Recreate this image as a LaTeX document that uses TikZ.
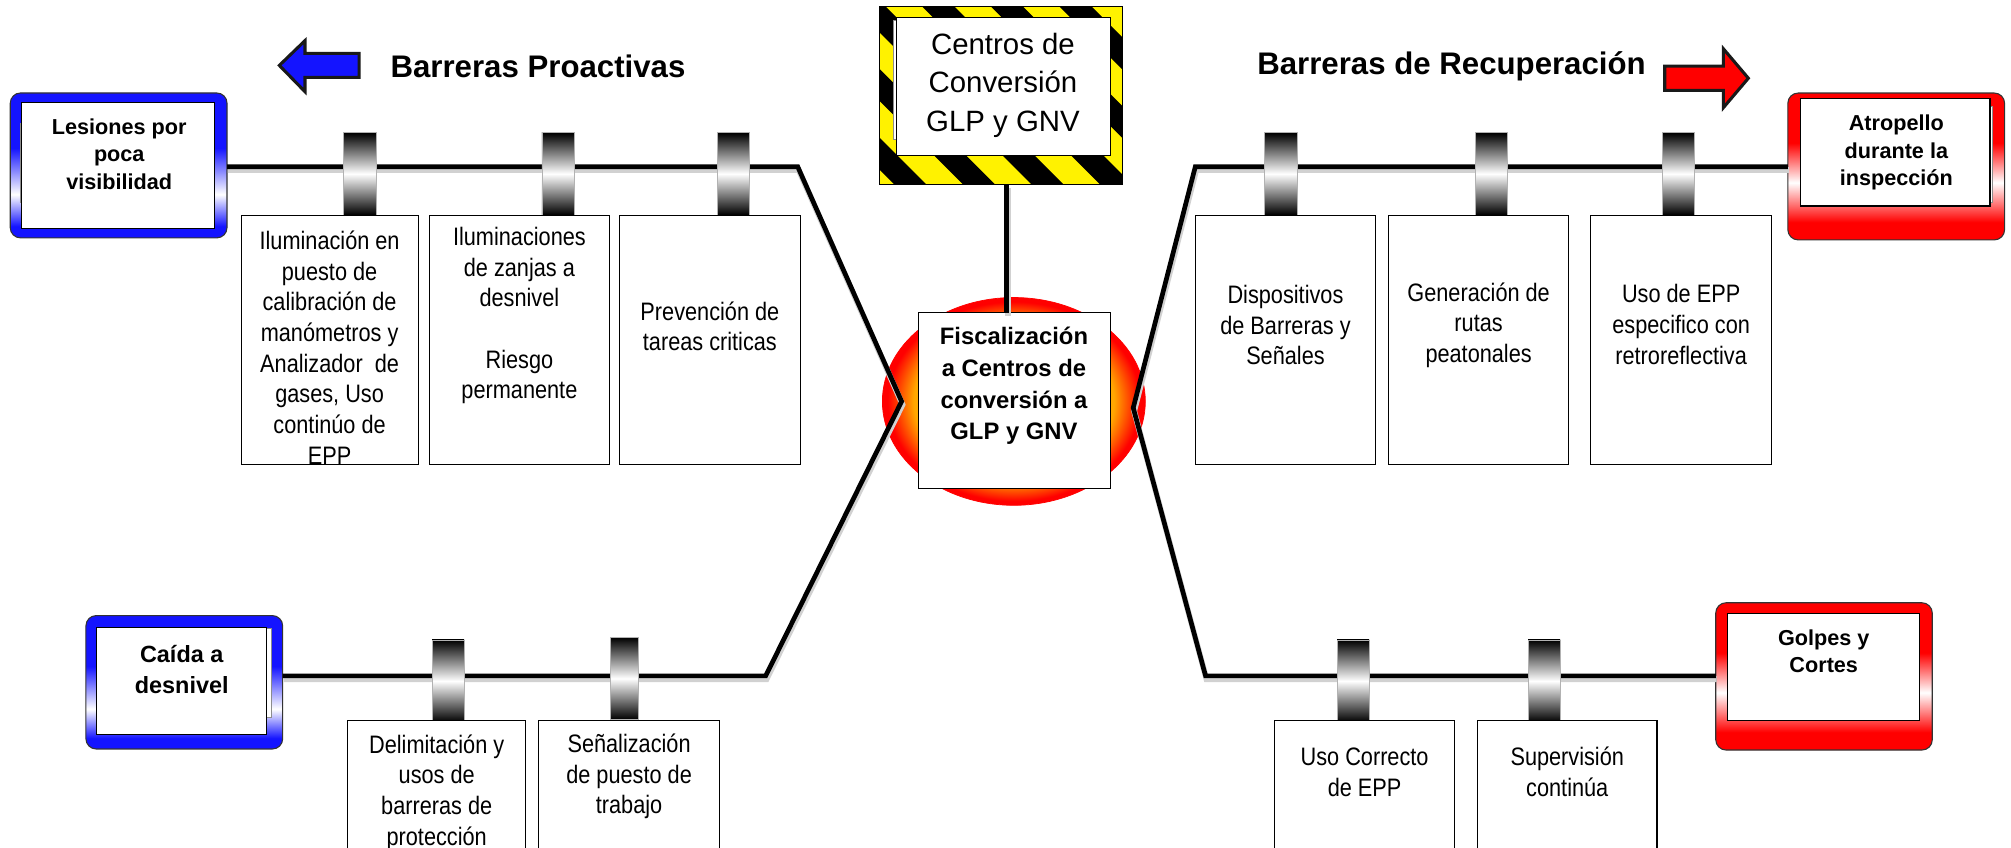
\documentclass[tikz,border=0pt]{standalone}
\usepackage{fontspec}
\setmainfont{Liberation Sans}
\newfontfamily\narrowsans[FakeStretch=0.86]{Liberation Sans}
\usepackage{tikz}
\usetikzlibrary{shapes,positioning,calc}
\definecolor{amber}{RGB}{255,168,0}
\definecolor{rimblue}{RGB}{20,20,255}
\definecolor{rimred}{RGB}{255,0,0}
\pgfdeclareverticalshading{bluerim}{100bp}{color(0bp)=(rimblue); color(29bp)=(rimblue); color(40bp)=(white); color(56bp)=(rimblue); color(100bp)=(rimblue)}
\pgfdeclareverticalshading{redrim}{100bp}{color(0bp)=(rimred); color(31bp)=(rimred); color(44.5bp)=(white); color(58bp)=(rimred); color(100bp)=(rimred)}
\pgfdeclareradialshading{fireball}{\pgfpoint{0bp}{0bp}}{color(0bp)=(amber); color(19bp)=(amber); color(24bp)=(rimred); color(50bp)=(rimred)}
\newcommand{\pu}{0.025cm}
\tikzstyle{tbox}=[draw, line width=0.6pt, fill=white, inner sep=0, outer sep=0]
\tikzstyle{barrel}=[draw=black!30, line width=0.3pt, top color=black, bottom color=black, middle color=white, minimum width=25*\pu, minimum height=64*\pu, inner sep=0, outer sep=0]
\tikzstyle{rim}=[draw=black!80, line width=0.6pt, rounded corners=0.2cm, inner sep=0, outer sep=0]
\tikzstyle{sheet}=[draw=black!45, line width=0.4pt, fill=white]
\tikzset{
  spine/.style={line width=2.6pt},
  spineshadow/.style={draw=black!18, line width=3.2pt, transform canvas={xshift=0.5pt,yshift=-1.8pt}},
  btext/.style={font=\narrowsans\fontsize{14}{17}\selectfont, align=center, inner sep=0},
  htext/.style={font=\bfseries\fontsize{12}{15.2}\selectfont, align=center, inner sep=0},
  title/.style={font=\bfseries\fontsize{17.3}{20}\selectfont, inner sep=0},
  bigarrow/.style={draw=black!90, line width=1.7pt, line join=miter}
}
\newcommand{\barrier}{\node[barrel]}
\newcommand{\drawbox}{\node[tbox]}

\begin{document}
\begin{tikzpicture}[x=\pu, y=-\pu]
	\useasboundingbox (0,0) rectangle (1568,661);
	\clip (0,0) rectangle (1568,661);
	
	% core event
	\node[ellipse, draw=rimred, line width=0.4pt, shade, shading=fireball, minimum width=205*\pu, minimum height=162*\pu, inner sep=0] (fire) at (790.5,313) {};
	\drawbox[minimum width=150*\pu, minimum height=137*\pu] (fisc) at (791,312.5) {};
	\node[htext, font=\bfseries\fontsize{13.2}{17.6}\selectfont] (fisctx) at (790.6,301) {Fiscalización\\a Centros de\\conversión a\\GLP y GNV};
	
	% hazard sign
	\node[draw, line width=0.6pt, fill=yellow, minimum width=189.6*\pu, minimum height=139.3*\pu, inner sep=0, outer sep=0] (hzo) at (780.2,74.4) {};
	\begin{scope}
		\clip (hzo.south west) rectangle (hzo.north east);
		\foreach \k in {-5,...,3}
			\fill ({714+53.5*\k},0) -- ++(25,0) -- ++(170,170) -- ++(-25,0) -- cycle;
	\end{scope}
	\draw[line width=0.6pt] (hzo.south west) rectangle (hzo.north east);
	\path[sheet] (696.5,16) rectangle (701,109);
	\drawbox[minimum width=166.5*\pu, minimum height=108*\pu] (hz) at (782.3,67.6) {};
	\node[font=\fontsize{16.3}{21.3}\selectfont, align=center, inner sep=0] (hztx) at (782,66.3) {Centros de\\Conversión\\GLP y GNV};
	
	% threats and consequences
	\node[rim, shade, shading=bluerim, minimum width=169*\pu, minimum height=113*\pu] (lfr) at (92.5,129) {};
	\path[sheet] (15.5,96) rectangle (19,158);
	\drawbox[minimum width=150.6*\pu, minimum height=98*\pu] (lin) at (92.3,129) {};
	\node[htext] (ltx) at (93,120) {Lesiones por\\poca\\visibilidad};
	
	\node[rim, shade, shading=bluerim, minimum width=153.4*\pu, minimum height=104*\pu] (cfr) at (143.7,532) {};
	\path[sheet] (205,490) rectangle (211.8,559);
	\drawbox[minimum width=133*\pu, minimum height=84*\pu] (cin) at (141.5,531) {};
	\node[htext, font=\bfseries\fontsize{13}{17.6}\selectfont] (ctx) at (141.7,522) {Caída a\\desnivel};
	
	\node[rim, shade, shading=redrim, minimum width=169*\pu, minimum height=114.5*\pu] (afr) at (1478.5,129.8) {};
	\path[sheet] (1548,83) rectangle (1553.5,158);
	\drawbox[minimum width=148*\pu, minimum height=83.6*\pu] (ain) at (1477.6,118.8) {};
	\node[htext] (atx) at (1478.6,119) {Atropello\\durante la\\inspección};
	
	\node[rim, shade, shading=redrim, minimum width=168.8*\pu, minimum height=114.8*\pu] (gfr) at (1422.2,527.4) {};
	\drawbox[minimum width=150.4*\pu, minimum height=84*\pu] (gin) at (1421.8,520) {};
	\node[htext] (gtx) at (1422,508) {Golpes y\\Cortes};
	
	\coordinate (tlc) at (622,130);
	\coordinate (jl) at (703,313);
	\coordinate (blc) at (597,527);
	\coordinate (trc) at (932,130);
	\coordinate (jr) at (883.6,318);
	\coordinate (brc) at (940,527);
	\coordinate (jt) at (785,244);
	
	\foreach \st in {spineshadow,spine}{
		\draw[\st] (tlc -| lfr.east) -- (tlc) -- (jl) -- (blc) -- (blc -| cfr.east);
		\draw[\st] (trc -| afr.west) -- (trc) -- (jr) -- (brc) -- (brc -| gfr.west);
		\draw[\st] (jt |- hzo.south) -- (jt);
	}
	
	% barriers
	\barrier (c1) at (280.5,135.5) {};
	\barrier (c2) at (435,135.5) {};
	\barrier (c3) at (572,135.5) {};
	\barrier (c4) at (998.6,135.5) {};
	\barrier (c5) at (1162.6,135.5) {};
	\barrier (c6) at (1308.7,135.5) {};
	\barrier (c7) at (349.4,531) {};
	\barrier[minimum width=22*\pu] (c8) at (487,529) {};
	\barrier (c9) at (1055,531) {};
	\barrier (c10) at (1204,531) {};
	
	\drawbox[minimum width=138*\pu, minimum height=194*\pu] (b1) at (257,265) {};
	\node[btext] (t1) at (257,271) {Iluminación en\\puesto de\\calibración de\\manómetros y\\Analizador\ \ de\\gases, Uso\\continúo de\\EPP};
	\drawbox[minimum width=140*\pu, minimum height=194*\pu] (b2) at (405,265) {};
	\node[btext] (t2) at (405,246) {Iluminaciones\\de zanjas a\\desnivel\\[17pt]Riesgo\\permanente};
	\drawbox[minimum width=141*\pu, minimum height=194*\pu] (b3) at (553.5,265) {};
	\node[btext] (t3) at (553.5,254.5) {Prevención de\\tareas criticas};
	
	\drawbox[minimum width=140*\pu, minimum height=194*\pu] (b4) at (1002.3,265) {};
	\node[btext] (t4) at (1002.3,253.5) {Dispositivos\\de Barreras y\\Señales};
	\drawbox[minimum width=140.7*\pu, minimum height=194*\pu] (b5) at (1152.9,265) {};
	\node[btext] (t5) at (1152.9,253.5) {Generación de\\rutas\\peatonales};
	\drawbox[minimum width=140.7*\pu, minimum height=194*\pu] (b6) at (1310.8,265) {};
	\node[btext] (t6) at (1310.8,253) {Uso de EPP\\especifico con\\retroreflectiva};
	
	\drawbox[minimum width=139*\pu, minimum height=150*\pu] (b7) at (340.5,637) {};
	\node[btext] (t7) at (340.5,618) {Delimitación y\\usos de\\barreras de\\protección};
	\drawbox[minimum width=141*\pu, minimum height=150*\pu] (b8) at (490.5,637) {};
	\node[btext] (t8) at (490.5,605.5) {Señalización\\de puesto de\\trabajo};
	\drawbox[minimum width=140*\pu, minimum height=150*\pu] (b9) at (1064,637) {};
	\node[btext] (t9) at (1064,602) {Uso Correcto\\de EPP};
	\drawbox[minimum width=140*\pu, minimum height=150*\pu] (b10) at (1222,637) {};
	\node[btext] (t10) at (1222,602) {Supervisión\\continúa};
	
	% headings
	\node[title] (pro) at (419.5,51.5) {Barreras Proactivas};
	\node[title] (rec) at (1131.8,52) {Barreras de Recuperación};
	\draw[bigarrow, fill=rimblue] (217.8,51) -- (237.8,31.7) -- (237.8,41.6) -- (280,41.6) -- (280,60.3) -- (237.8,60.3) -- (237.8,71.5) -- cycle;
	\draw[bigarrow, fill=rimred] (1363.2,61) -- (1343.7,38) -- (1343.7,51.5) -- (1298,51.5) -- (1298,70.5) -- (1343.7,70.5) -- (1343.7,84) -- cycle;
	
\end{tikzpicture}
\end{document}
